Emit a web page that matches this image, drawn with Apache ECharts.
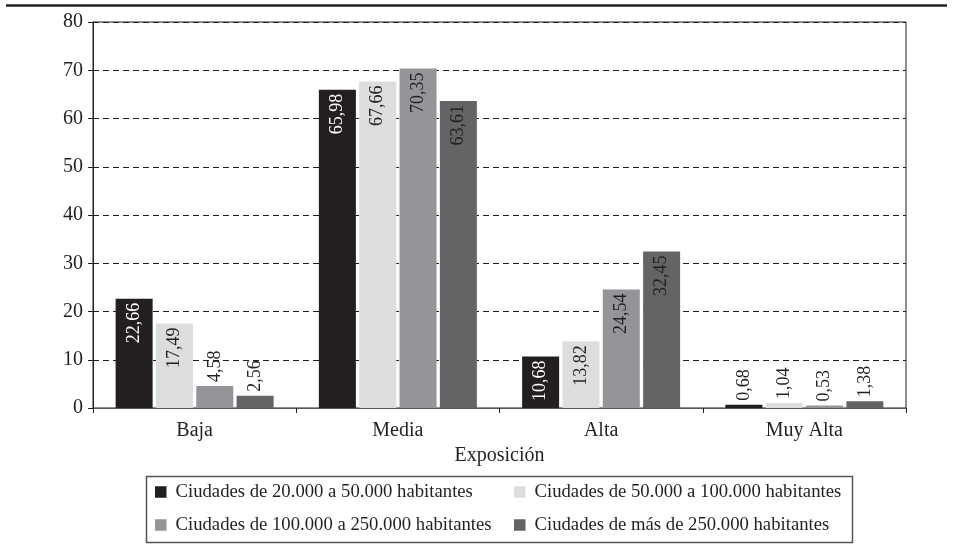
<!DOCTYPE html>
<html><head><meta charset="utf-8">
<script src="https://cdn.jsdelivr.net/npm/echarts@6/dist/echarts.min.js"></script>
<style>html,body{margin:0;padding:0;background:#fff}#c{width:953px;height:552px}</style>
</head><body><div id="c"></div>
<script>
var categories = ['Baja', 'Media', 'Alta', 'Muy Alta'];
var seriesNames = [
  'Ciudades de 20.000 a 50.000 habitantes',
  'Ciudades de 50.000 a 100.000 habitantes',
  'Ciudades de 100.000 a 250.000 habitantes',
  'Ciudades de más de 250.000 habitantes'
];
var s1 = [22.66, 65.98, 10.68, 0.68];
var s2 = [17.49, 67.66, 13.82, 1.04];
var s3 = [4.58, 70.35, 24.54, 0.53];
var s4 = [2.56, 63.61, 32.45, 1.38];
var yTicks = [0, 10, 20, 30, 40, 50, 60, 70, 80];

var colors = ['#231f20', '#dcdddf', '#939598', '#636466'];
var labelColors = ['#ffffff', '#231f20', '#231f20', '#231f20'];
var FONT = '"Liberation Serif", "DejaVu Serif", serif';

function fmt(v) { return v.toFixed(2).replace('.', ','); }

function makeData(arr, idx) {
  return arr.map(function (v) {
    var inside = v >= 10;
    return {
      value: v,
      label: inside ? {
        position: 'insideTop', rotate: 90, align: 'right', verticalAlign: 'middle',
        distance: 4, color: labelColors[idx]
      } : {
        position: 'top', rotate: 90, align: 'left', verticalAlign: 'middle',
        distance: 4, color: '#231f20'
      }
    };
  });
}

var all = [s1, s2, s3, s4];
var series = all.map(function (arr, i) {
  return {
    name: seriesNames[i],
    type: 'bar',
    barWidth: 37,
    barGap: '9%',
    itemStyle: { color: colors[i] },
    label: {
      show: true, fontFamily: FONT, fontSize: 18,
      formatter: function (p) { return fmt(p.value); }
    },
    data: makeData(arr, i)
  };
});

var legendPos = [[155, 482], [514, 482], [155, 515], [514, 515]];
var legends = seriesNames.map(function (n, i) {
  return {
    data: [n], left: legendPos[i][0], top: legendPos[i][1], padding: 0,
    icon: 'rect', itemWidth: 11.5, itemHeight: 11.5,
    selectedMode: false,
    textStyle: { fontFamily: FONT, fontSize: 18.7, color: '#231f20', lineHeight: 20, padding: [0, 0, 0, 4] }
  };
});

var chart = echarts.init(document.getElementById('c'), null, { renderer: 'canvas' });
chart.setOption({
  animation: false,
  backgroundColor: '#ffffff',
  textStyle: { fontFamily: FONT },
  grid: { left: 93, right: 47, top: 22, bottom: 144, show: true, borderColor: '#231f20', borderWidth: 1 },
  legend: legends,
  graphic: [
    { type: 'line', shape: { x1: 6, y1: 5.5, x2: 947, y2: 5.5 }, style: { stroke: '#231f20', lineWidth: 2.5 } },
    { type: 'rect', shape: { x: 146.5, y: 476.5, width: 706, height: 66 }, style: { fill: 'none', stroke: '#555', lineWidth: 1.5 } }
  ],
  xAxis: {
    type: 'category', data: categories,
    name: 'Exposición', nameLocation: 'middle', nameGap: 38,
    nameTextStyle: { fontFamily: FONT, fontSize: 20, color: '#231f20' },
    axisLine: { lineStyle: { color: '#555', width: 1.2 } },
    axisTick: { show: true, length: 5, lineStyle: { color: '#231f20' } },
    axisLabel: { fontFamily: FONT, fontSize: 20, color: '#231f20', margin: 13 }
  },
  yAxis: {
    type: 'value', min: yTicks[0], max: yTicks[yTicks.length - 1], interval: 10,
    axisLine: { show: true, lineStyle: { color: '#231f20', width: 1 } },
    axisTick: { show: true, length: 5, lineStyle: { color: '#231f20' } },
    axisLabel: { fontFamily: FONT, fontSize: 20, color: '#231f20', margin: 10 },
    splitLine: { show: true, lineStyle: { color: '#231f20', type: [6, 4], width: 1.1 } }
  },
  series: series
});
</script></body></html>
